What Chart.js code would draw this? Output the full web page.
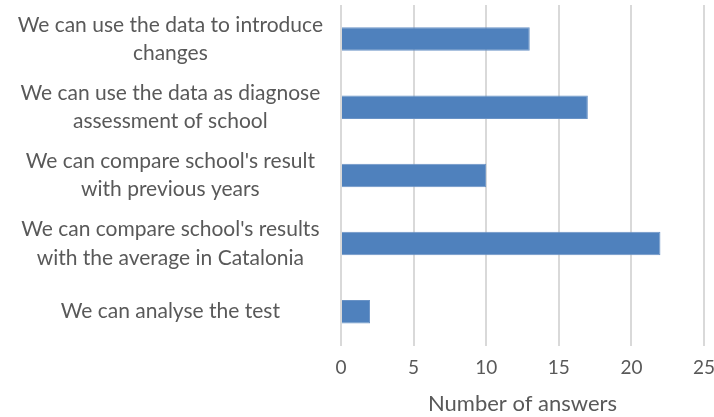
<!DOCTYPE html>
<html lang="en">
<head>
<meta charset="UTF-8">
<title>Number of answers</title>
<script src="https://cdn.jsdelivr.net/npm/chart.js"></script>
<style>
  html, body { margin: 0; padding: 0; background: #fff; }
  #wrap { width: 714px; height: 417px; }
</style>
</head>
<body>
<div id="wrap"><canvas id="chart"></canvas></div>
<script>
// data
const categories = [
  ['We can use the data to introduce', 'changes'],
  ['We can use the data as diagnose', 'assessment of school'],
  ["We can compare school's result", 'with previous years'],
  ["We can compare school's results", 'with the average in Catalonia'],
  'We can analyse the test'
];
const answers = [13, 17, 10, 22, 2];
const xTicks = [0, 5, 10, 15, 20, 25];

const textColor = '#595959';
const fontFamily = 'Lato, "Open Sans", sans-serif';

new Chart(document.getElementById('chart'), {
  type: 'bar',
  data: {
    labels: categories,
    datasets: [{
      data: answers,
      backgroundColor: '#4f81bd',
      borderColor: '#6a93c6',
      borderWidth: 1,
      barPercentage: 0.69,
      categoryPercentage: 0.5
    }]
  },
  options: {
    indexAxis: 'y',
    responsive: true,
    maintainAspectRatio: false,
    animation: false,
    layout: { padding: { top: 5, right: 0, left: 0, bottom: 0 } },
    plugins: { legend: { display: false }, tooltip: { enabled: false } },
    scales: {
      x: {
        min: 0,
        max: 25,
        afterBuildTicks: (scale) => { scale.ticks = xTicks.map(v => ({ value: v })); },
        afterFit: (scale) => { scale.paddingRight = 10; },
        grid: { color: '#d9d9d9', lineWidth: 2, drawTicks: false },
        border: { display: false },
        ticks: { color: textColor, padding: 11, font: { family: fontFamily, size: 19 } },
        title: {
          display: true,
          text: 'Number of answers',
          color: textColor,
          padding: { top: 0, bottom: 0 },
          font: { family: fontFamily, size: 22 }
        }
      },
      y: {
        grid: { display: false },
        border: { display: false },
        afterFit: (scale) => {
          scale.width = 341;
          scale.paddingTop = 0;
          scale.paddingBottom = 0;
        },
        ticks: {
          color: textColor,
          crossAlign: 'center',
          padding: 10,
          font: { family: fontFamily, size: 21, lineHeight: 1.35 }
        }
      }
    }
  }
});
</script>
</body>
</html>
